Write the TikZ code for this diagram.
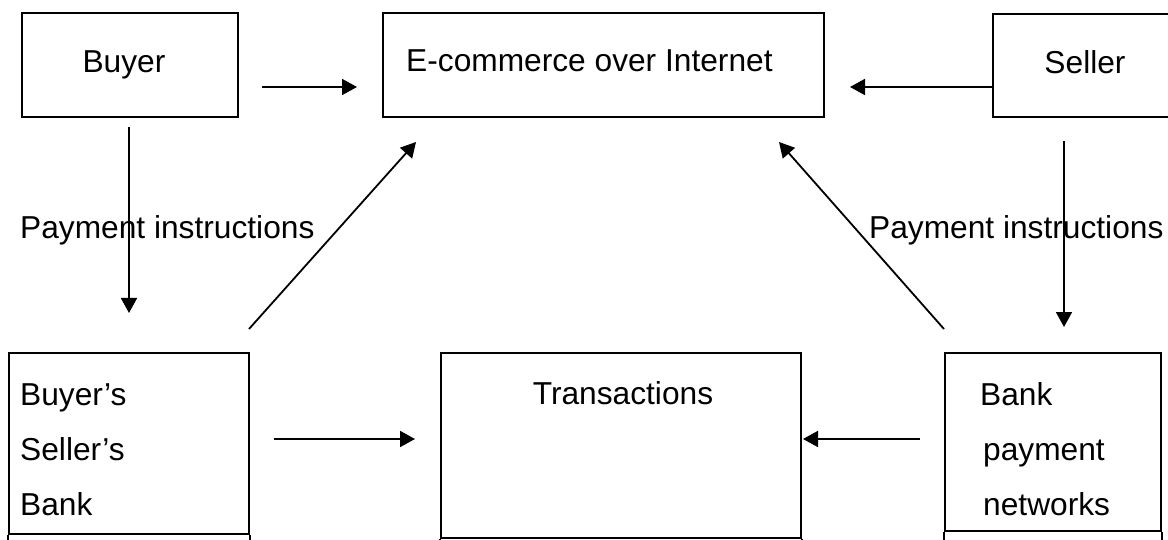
\documentclass[tikz,border=0pt]{standalone}
\usepackage{fontspec}
\setmainfont{Liberation Sans}
\usetikzlibrary{arrows.meta}
\begin{document}
\begin{tikzpicture}[x=1pt,y=-1pt,
  box/.style={draw, line width=2pt, inner sep=0pt, anchor=north west},
  lbl/.style={inner sep=0pt, font=\fontsize{31.7}{38}\selectfont},
  arr/.style={line width=1.8pt, -{Triangle[length=15pt,width=16pt]}},
  tick/.style={line width=2pt},
]
\useasboundingbox (0,0) rectangle (1168,540);
\clip (0,0) rectangle (1168,540);

% boxes
\node[box, minimum width=216pt, minimum height=104pt] (buyer)  at (21,12)  {};
\node[box, minimum width=441pt, minimum height=104pt] (ecom)   at (382,12) {};
\node[box, minimum width=190pt, minimum height=103pt] (seller) at (992,13) {};
\node[box, minimum width=240pt, minimum height=181pt] (bank1)  at (8,352)  {};
\node[box, minimum width=360pt, minimum height=185pt] (trans)  at (440,352) {};
\node[box, minimum width=216pt, minimum height=178pt] (bank2)  at (944,352) {};

% side lines running on below the lower boxes
\draw[tick] (bank1.south west) -- ++(0,10);
\draw[tick] (bank1.south east) -- ++(0,10);
\draw[tick] (trans.south west) -- ++(0,10);
\draw[tick] (trans.south east) -- ++(0,10);
\draw[tick] (bank2.south west) -- ++(0,10);
\draw[tick] (bank2.south east) -- ++(0,10);

% box texts
\node[lbl, anchor=base] (buyerT) at (124,73) {Buyer};
\node[lbl, anchor=base west] (ecomT) at (406,72) {E-commerce over Internet};
\node[lbl, anchor=base] (sellerT) at (1085,74) {Seller};
\node[lbl, anchor=base west] (bank1a) at (20,405) {Buyer’s};
\node[lbl, anchor=base west] (bank1b) at (20,460) {Seller’s};
\node[lbl, anchor=base west] (bank1c) at (20,515) {Bank};
\node[lbl, anchor=base] (transT) at (623,404) {Transactions};
\node[lbl, anchor=base west] (bank2a) at (980,405) {Bank};
\node[lbl, anchor=base west] (bank2b) at (983,460) {payment};
\node[lbl, anchor=base west] (bank2c) at (983,515) {networks};

% edge labels
\node[lbl, anchor=base west] (payL) at (20,239) {Payment instructions};
\node[lbl, anchor=base west] (payR) at (869,239) {Payment instructions};

% connectors
\draw[arr] ([shift={(23,22)}]buyer.east) -- ([shift={(-25,22)}]ecom.west);
\draw[arr] ([shift={(0,21.5)}]seller.west) -- ([shift={(25,22)}]ecom.east);
\draw[arr] ([shift={(-1,9)}]buyer.south) -- ([shift={(0,-39)}]bank1.north);
\draw[arr] ([shift={(72,23)}]seller.south west) -- ([shift={(120,-25)}]bank2.north west);
\draw[arr] ([shift={(-1,-23)}]bank1.north east) -- ([shift={(34,24)}]ecom.south west);
\draw[arr] ([shift={(0,-23)}]bank2.north west) -- ([shift={(-46,24)}]ecom.south east);
\draw[arr] ([shift={(24,-4.5)}]bank1.east) -- ([shift={(-25,-6.5)}]trans.west);
\draw[arr] ([shift={(-24,-3)}]bank2.west) -- ([shift={(1,-6.5)}]trans.east);
\end{tikzpicture}
\end{document}
